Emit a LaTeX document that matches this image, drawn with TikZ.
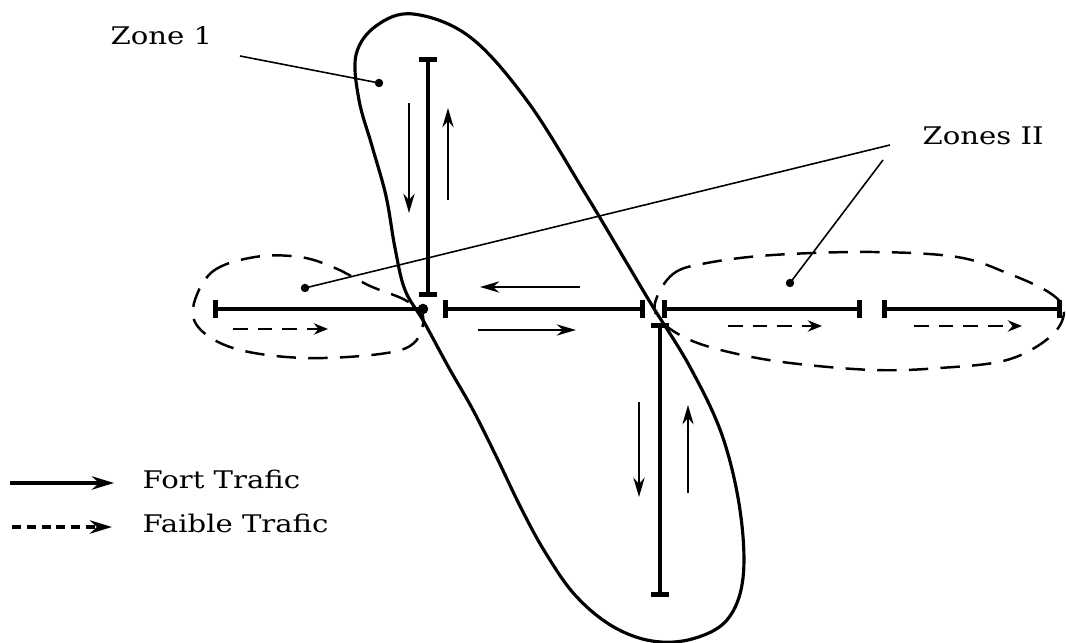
\documentclass[tikz,border=0pt]{standalone}
\usepackage{fontspec}
\newfontfamily\labfont[FakeStretch=1.2]{DejaVu Serif}
\usetikzlibrary{arrows.meta}
\begin{document}
\begin{tikzpicture}[x=0.01cm,y=-0.01cm,
  road/.style={line width=1.4pt,{Bar[width=5pt]}-{Bar[width=5pt]}},
  roaddot/.style={line width=1.4pt,{Bar[width=5pt]}-},
  flow/.style={line width=0.6pt,-{Stealth[length=5.5pt,width=3.2pt]}},
  wflow/.style={line width=0.7pt,dash pattern=on 4.2pt off 2.8pt,-{Stealth[length=4pt,width=3.2pt]}},
  zoneline/.style={line width=0.9pt},
  dzone/.style={line width=0.7pt,dash pattern=on 5.5pt off 3.5pt},
  leader/.style={line width=0.45pt},
  dotmark/.style={fill=black},
  lab/.style={font=\labfont\fontsize{6.9}{8}\selectfont,inner sep=0pt},
  leglab/.style={font=\labfont\fontsize{6.9}{8}\selectfont,inner sep=0pt},
  legsolid/.style={line width=1pt,-{Stealth[length=6.3pt,width=3.8pt]}},
  legdash/.style={line width=1pt,dash pattern=on 2.6pt off 1.6pt,-{Stealth[length=6.3pt,width=3.8pt]}}
]
\useasboundingbox (0,0) rectangle (1066,643);

% Zone 1 outline
\draw[zoneline] plot[smooth cycle,tension=0.6] coordinates {
 (413,14) (470,37) (528,102) (585,193) (625,260) (653,307)
 (690,367) (722,435) (740,510) (743,578) (727,620) (692,639) (652,641)
 (612,626) (575,595) (545,552) (521,508) (497,458) (473,410) (449,368) (424,322)
 (405,290) (395,248) (386,196) (372,146) (359,100) (356,55) (376,26)};

% Zones II outlines
\draw[dzone] plot[smooth cycle,tension=0.6] coordinates {
 (193,308) (212,272) (255,257) (300,257) (335,268) (370,286) (405,300) (423,316)
 (414,343) (380,354) (305,358) (240,350) (203,332)};
\draw[dzone] plot[smooth cycle,tension=0.6] coordinates {
 (655,303) (673,274) (707,263) (773,255) (873,252) (957,257) (1007,273) (1050,293)
 (1064,312) (1050,337) (1007,360) (940,368) (873,370) (790,363) (733,353) (690,340) (662,322)};

% roads
\coordinate (v1a) at (428,57);  \coordinate (v1b) at (428,297);
\coordinate (hla) at (213,309); \coordinate (hlb) at (423,309);
\coordinate (hma) at (443,309); \coordinate (hmb) at (645,309);
\coordinate (r1a) at (662,309); \coordinate (r1b) at (862,309);
\coordinate (r2a) at (882,309); \coordinate (r2b) at (1062,309);
\coordinate (v2a) at (660,323); \coordinate (v2b) at (660,597);
\draw[road] (v1a) -- (v1b);
\draw[roaddot] (hla) -- (hlb);
\fill[dotmark] (hlb) circle[radius=1.5pt];
\draw[road] (hma) -- (hmb);
\draw[road] (r1a) -- (r1b);
\draw[road] (r2a) -- (r2b);
\draw[road] (v2a) -- (v2b);

% traffic arrows
\coordinate (a1s) at (409,103); \coordinate (a1e) at (409,213);
\coordinate (a2s) at (448,200); \coordinate (a2e) at (448,108);
\coordinate (a3s) at (580,287); \coordinate (a3e) at (480,287);
\coordinate (a4s) at (478,330); \coordinate (a4e) at (576,330);
\coordinate (a5s) at (639,402); \coordinate (a5e) at (639,497);
\coordinate (a6s) at (688,493); \coordinate (a6e) at (688,405);
\draw[flow] (a1s) -- (a1e);
\draw[flow] (a2s) -- (a2e);
\draw[flow] (a3s) -- (a3e);
\draw[flow] (a4s) -- (a4e);
\draw[flow] (a5s) -- (a5e);
\draw[flow] (a6s) -- (a6e);
\coordinate (w1s) at (233,329); \coordinate (w1e) at (328,329);
\coordinate (w2s) at (728,326); \coordinate (w2e) at (822,326);
\coordinate (w3s) at (914,326); \coordinate (w3e) at (1022,326);
\draw[wflow] (w1s) -- (w1e);
\draw[wflow] (w2s) -- (w2e);
\draw[wflow] (w3s) -- (w3e);

% labels and leaders
\node[lab,anchor=base west] (z1) at (110,45) {Zone 1};
\node[lab,anchor=base west] (z2) at (922,145) {Zones II};
\coordinate (z1l) at (240,56);
\coordinate (z1d) at (379,83);
\coordinate (z2l1) at (890,145);
\coordinate (z2l2) at (883,160);
\coordinate (z2d1) at (305,288);
\coordinate (z2d2) at (790,283);
\draw[leader] (z1l) -- (z1d);
\draw[leader] (z2d1) -- (z2l1);
\draw[leader] (z2l2) -- (z2d2);
\fill[dotmark] (z1d) circle[radius=1.2pt];
\fill[dotmark] (z2d1) circle[radius=1.2pt];
\fill[dotmark] (z2d2) circle[radius=1.2pt];

% legend
\coordinate (l1s) at (10,483); \coordinate (l1e) at (114,483);
\coordinate (l2s) at (12,527); \coordinate (l2e) at (112,527);
\draw[legsolid] (l1s) -- (l1e);
\draw[legdash] (l2s) -- (l2e);
\node[leglab,anchor=base west] (t1) at (142,489) {Fort Trafic};
\node[leglab,anchor=base west] (t2) at (142,533) {Faible Trafic};
\end{tikzpicture}
\end{document}
